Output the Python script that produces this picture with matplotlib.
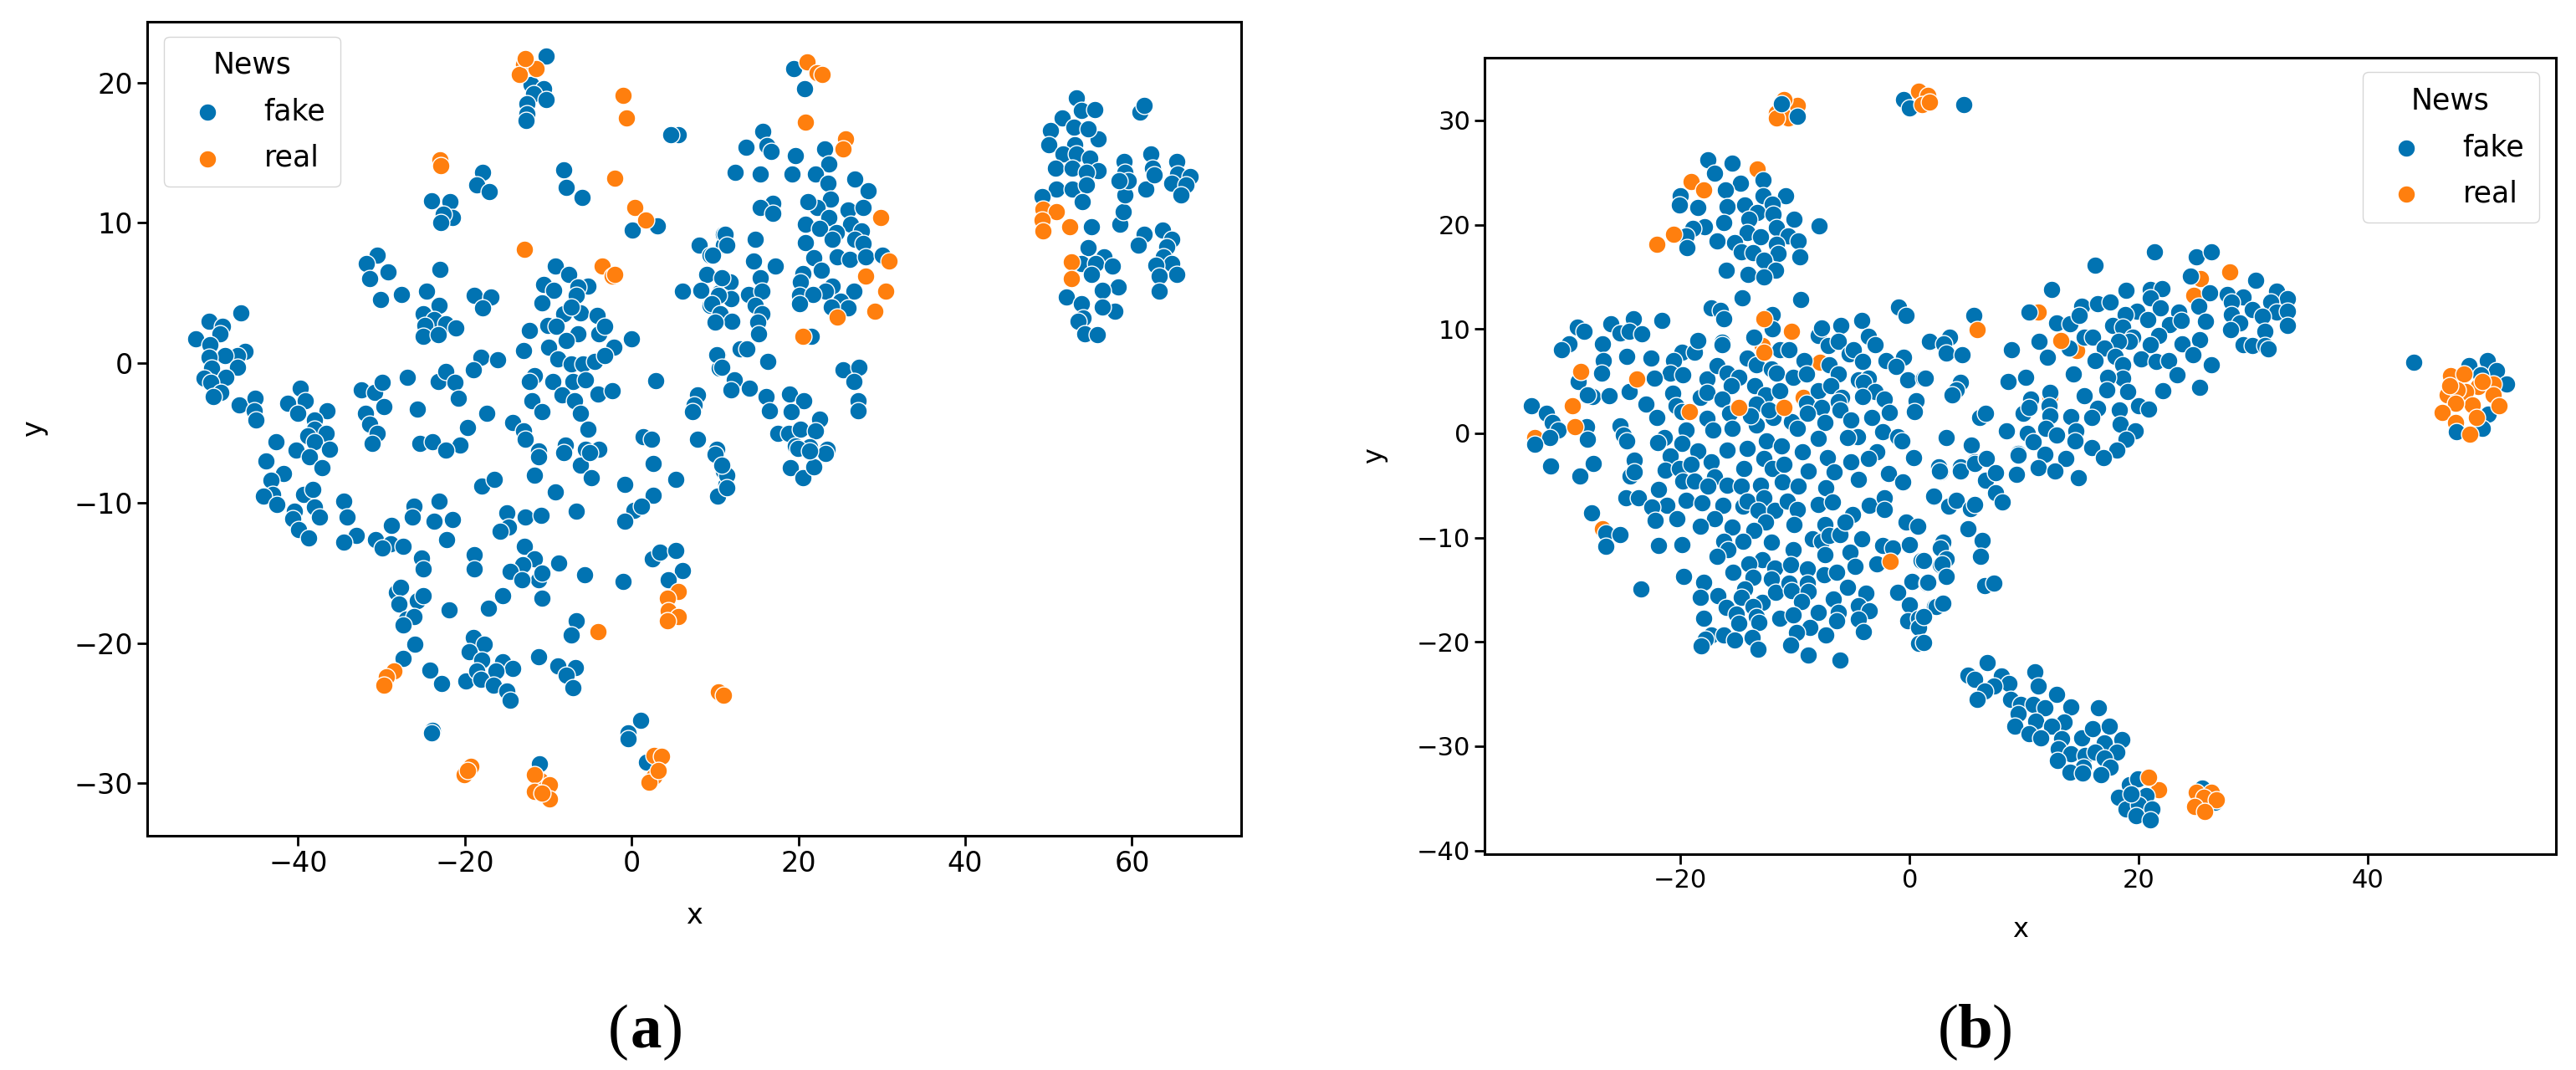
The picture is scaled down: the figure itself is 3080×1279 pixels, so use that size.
import numpy as np
import matplotlib
matplotlib.use('Agg')
import matplotlib.pyplot as plt

W, H = 3080, 1279
BLUE = '#0173b2'
ORANGE = '#ff7f0e'

# panel (a)
fake_a = np.array([
    (-10.3,21.9),(-12.1,19.9),(-10.6,19.6),(-11.8,19.2),(-10.3,18.8),(-12.6,18.5),(-12.6,17.8),(-12.7,17.3),
    (5.6,16.3),(4.7,16.3),(-17.9,13.6),(-18.6,12.7),(-17.1,12.2),(-8.1,13.8),(-7.8,12.5),(-5.9,11.8),
    (0.1,9.5),(3.1,9.8),(-24,11.6),(-21.8,11.5),(-21.5,10.4),(-22.6,10.6),(-22.9,10.0),
    (-23,6.7),(-30.5,7.7),(-31.8,7.1),(-29.2,6.5),(-31.4,6.0),(-30.1,4.5),(-27.6,4.9),(-24.6,5.1),(-23.1,4.1),
    (-25,3.5),(-23.7,3.1),(-22.3,2.8),(-21.1,2.5),(-24.8,2.7),(-25,1.9),(-23.2,2.0),(-18.9,4.8),(-16.9,4.7),(-17.9,3.9),
    (-9.2,6.9),(-7.5,6.3),(-10.6,5.6),(-9.4,5.2),(-10.8,4.3),(-5.2,5.5),(-6.4,5.4),(-6.6,4.8),(-6.1,3.6),(-4.1,3.4),
    (-8.1,3.5),(-7.2,4.0),(-10.1,2.7),(-9.1,2.6),(-6.4,2.1),(-3.9,2.1),(-3.2,2.6),(-12.3,2.3),(-7.8,1.6),(-2.1,1.1),
    (0,1.7),(-13,0.9),(-10,1.1),(-8.9,0.3),(-7.2,-0.1),(-5.8,-0.1),(-4.4,0.1),(-3.2,0.5),(-18.1,0.4),(-16.1,0.2),(-19,-0.5),
    (-46.9,3.6),(-50.7,2.95),(-49.1,2.6),(-49.4,2.1),(-52.3,1.7),(-50.6,1.3),(-46.4,0.8),(-47.3,0.5),(-48.8,0.5),(-50.7,0.4),
    (-47.3,-0.3),(-50.4,-0.4),(-48.7,-1.0),(-51.3,-1.1),(-50.5,-1.4),(-49.3,-2.1),(-50.2,-2.4),(-47.1,-3.0),(-45.2,-2.5),(-45.3,-3.4),(-45.1,-4.1),
    (-39.7,-1.8),(-41.2,-2.9),(-39.1,-2.7),(-40,-3.6),(-36.5,-3.4),(-38,-4.1),(-38,-4.7),(-38.8,-5.2),(-36.6,-5.05),(-38,-5.65),
    (-42.7,-5.6),(-40.2,-6.25),(-36.2,-6.15),(-32.4,-1.9),(-30.8,-2.1),(-29.9,-1.4),(-29.7,-3.1),(-31.9,-3.6),(-31.4,-4.35),(-30.5,-5.05),(-31.1,-5.75),
    (-26.9,-1.0),(-25.7,-3.3),(-23.2,-1.3),(-22.3,-0.6),(-21.2,-1.4),(-20.8,-2.5),(-17.4,-3.6),(-19.7,-4.6),(-14.3,-4.25),(-13,-4.85),(-12.8,-5.45),
    (-11.7,-0.9),(-12.3,-1.3),(-9.5,-1.3),(-7,-1.3),(-5.5,-1.2),(-8.3,-2.3),(-6.8,-2.7),(-4,-2.2),(-2.3,-2),(-12,-2.7),(-10.8,-3.5),(-6.1,-3.6),(-5.2,-4.7),
    (2.9,-1.25),(7.9,-2.3),(7.5,-3),(7.3,-3.5),(1.4,-5.25),(2.4,-5.45),(7.9,-5.45),(-25.4,-5.75),(-23.9,-5.65),(-20.6,-5.85),(-22.3,-6.25),
    (-11.2,-6.3),(-7.9,-5.85),(-5.5,-6.15),(-3.9,-6.15),(8.1,8.4),(9.4,7.7),(11,9.2),(11,8.4),(9,6.3),(6.1,5.1),(8.3,5.2),(10.5,5),(9.4,4.1),(10.1,3),(10.3,0.6),(10.5,-0.4),
    (-43.9,-7),(-38.6,-6.7),(-37.1,-7.5),(-41.7,-7.9),(-43.3,-8.4),(-43.1,-9.4),(-44.2,-9.5),(-42.6,-10.1),(-39.3,-9.4),(-38.2,-9),(-38,-10.3),(-40.4,-10.6),
    (-40.6,-11.1),(-37.4,-11),(-39.9,-11.9),(-38.7,-12.5),(-34.5,-9.85),(-34.1,-11),(-33,-12.3),(-34.5,-12.8),(-30.7,-12.6),(-28.9,-12.9),(-29.9,-13.2),
    (-28.8,-11.6),(-27.4,-13.1),(-25.2,-13.9),(-25,-14.7),(-26.1,-10.2),(-26.3,-11),(-23.1,-9.85),(-23.7,-11.3),(-21.5,-11.2),(-22.2,-12.6),
    (-18,-8.8),(-16.5,-8.3),(-11.7,-8),(-11.2,-6.7),(-9.2,-9.2),(-8.1,-6.4),(-6.1,-7.3),(-4.8,-8.2),(-5,-6.4),(-6.6,-10.6),(-15,-10.7),(-12.8,-11),(-10.9,-10.9),
    (-14.8,-11.7),(-15.8,-12),(-0.8,-8.7),(2.6,-7.2),(5.3,-8.3),(2.6,-9.45),(0.3,-10.5),(1.2,-10.2),(-0.8,-11.3),(10.3,-9.5),(10.1,-6.5),(11,-7.7),(11.3,-8.7),
    (-12.9,-13.1),(-11.7,-14),(-13.1,-14.4),(-14.6,-14.9),(-8.7,-14.3),(-11.2,-15.5),(-13.2,-15.5),(-10.8,-15),(-10.8,-16.8),(-18.9,-13.7),(-18.9,-14.7),(-5.6,-15.1),(-1,-15.6),
    (2.5,-14),(3.4,-13.5),(5.3,-13.4),(6.1,-14.8),(4.4,-15.5),(-6.6,-18.4),(-7.2,-19.4),(-28.2,-16.4),(-27.7,-16),(-27.9,-17.2),(-25.7,-17),(-25,-16.6),(-27,-18.3),
    (-26.1,-18.1),(-27.4,-18.7),(-21.9,-17.6),(-17.2,-17.5),(-15.5,-16.6),(-26,-20.1),(-27.4,-21.1),(-24.2,-21.9),(-22.8,-22.9),(-19.9,-22.7),
    (-19,-19.6),(-17.7,-20.1),(-19.5,-20.6),(-18,-21.2),(-15.5,-21.3),(-14.3,-21.8),(-16.3,-22),(-18.6,-22),(-18.1,-22.6),(-16.6,-23),(-15,-23.4),(-14.6,-24.1),
    (-11.2,-21),(-8.9,-21.6),(-6.7,-21.75),(-7.8,-22.3),(-7,-23.2),(-23.9,-26.2),(-24.0,-26.4),(1.1,-25.5),(-0.4,-26.4),(-0.4,-26.8),(1.8,-28.5),(-11.1,-28.6),
    (19.4,21),(20.7,19.6),(15.7,16.5),(13.7,15.4),(16.2,15.5),(16.7,15.1),(19.6,14.8),(23.1,15.3),(23.6,14.2),(12.4,13.6),(15.4,13.5),(19.2,13.5),(22,13.5),
    (23.5,12.8),(26.8,13.1),(28.4,12.3),(16.9,11.4),(15.4,11.1),(16.9,10.7),(23.8,11.7),(22.2,11.1),(21.1,11.5),(26,10.9),(27.8,11.1),(23.6,10.4),(20.8,9.9),
    (22.5,9.6),(26.3,9.9),(24.6,9.3),(27.6,9.4),(20.8,8.6),(24.1,8.8),(26.8,8.8),(27.8,8.5),(21.8,7.5),(24.7,7.6),(26.2,7.4),(28.1,7.6),(30.1,7.7),
    (20.5,6.4),(22.7,6.6),(20.2,5.8),(24.1,5.5),(23.2,5.1),(26.7,5.1),(20.1,4.8),(21.7,4.9),(20.1,4.2),(25.1,4.4),(26,3.9),(24,4),(21.5,1.9),
    (11.2,9.2),(11.4,8.4),(14.8,8.8),(9.7,7.7),(14.6,7.3),(17.2,6.9),(15.4,6.1),(11.8,5.8),(10.8,6.1),(14,4.9),(15.6,5.1),(11.9,4.6),(10.4,4.8),(9.6,4.2),
    (10.6,3.5),(12,3),(10,2.9),(14.8,4.1),(15.6,3.5),(15.1,2.9),(15.2,2.1),(13,1),(13.8,1),(16.3,0.1),(10.2,.6),(10.8,-.3),(12.3,-1.2),(11.9,-1.9),(14.1,-1.8),
    (16.1,-2.4),(16.5,-3.4),(18.9,-2.2),(20.6,-2.7),(19.1,-3.5),(25.4,-.5),(27.3,-.3),(26.7,-1.3),(27.2,-2.7),(27.2,-3.4),(22.5,-4),(17.5,-5.05),(18.8,-5),
    (20.2,-4.75),(22,-4.85),(19.6,-5.95),(21.3,-6),(23.4,-6.15),(10.2,-6.15),(19,-7.5),(20.5,-8.2),(21.8,-7.4),(23.2,-6.45),(19.9,-6.1),(21.3,-6.3),(10,-6.5),
    (11.45,-8),(10.3,-9.5),(11.45,-8.9),(10.8,-7.3),
    (53.35,18.9),(53.95,18),(55.55,18.1),(51.6,17.5),(50.2,16.6),(53.05,16.8),(55.95,16),(50,15.6),(53.15,15.6),(54.75,16.7),(51.7,14.9),(53.35,14.9),(54.95,14.6),
    (50.8,13.9),(52.85,13.9),(55.95,13.7),(54.55,13.6),(50.9,12.4),(52.85,12.4),(54.55,12.7),(54.05,11.5),(49.2,11.9),(55.15,9.7),(58.6,9.9),(59,10.8),(59.2,12),
    (59.1,14.4),(59.2,13.6),(59.6,13),(58.5,13),(61.7,12.4),(62.25,14.9),(62.45,13.9),(62.65,13.4),(61,17.9),(61.5,18.4),(65.35,14.4),(65.45,13.5),(67,13.3),
    (64.75,12.8),(66.45,12.7),(65.85,12),(61.5,9.2),(60.8,8.4),(63.65,9.5),(64.75,8.8),(64.15,8.3),(63.75,7.6),(64.75,7.1),(62.85,7),(65.35,6.3),(63.25,6.2),(63.25,5.1),
    (54.75,8.2),(56.65,7.6),(53.95,7.1),(55.65,7.1),(57.65,6.9),(55.15,6.3),(58.4,5.4),(56.45,5.2),(52.1,4.7),(53.95,4.2),(57.95,3.7),(56.45,4),(54.15,3.2),(53.55,3),(54.35,2.1),(55.85,2),
])
real_a = np.array([
    (-13.0,21.3),(-13.5,20.6),(-11.5,21.0),(-12.8,21.7),(-1.0,19.1),(-0.6,17.5),(-23.0,14.5),(-22.9,14.05),(-2.0,13.2),(0.4,11.1),(1.7,10.2),
    (-12.9,8.1),(-3.5,6.9),(-2.3,6.2),(-2.0,6.3),(5.6,-16.3),(4.3,-16.8),(4.4,-17.7),(5.6,-18.1),(4.3,-18.4),(-4,-19.2),
    (-28.5,-22),(-29.4,-22.4),(-29.7,-23),(2.7,-28),(3.6,-28.1),(2.7,-29.5),(2.1,-29.9),(3.2,-29.1),(-19.3,-28.8),(-20.1,-29.4),(-19.7,-29.1),
    (-11,-29.8),(-11.7,-29.4),(-9.9,-30.1),(-11.7,-30.6),(-9.9,-31.1),(-10.8,-30.7),(10.4,-23.5),(11,-23.7),
    (21,21.5),(22.2,20.7),(22.8,20.6),(20.8,17.2),(25.7,16),(25.4,15.3),(29.9,10.4),(30.9,7.3),(28.1,6.2),(30.5,5.1),(29.2,3.7),(24.7,3.3),(20.5,1.9),
    (49.3,11),(50.9,10.8),(49.2,10.2),(49.3,9.4),(52.5,9.7),(52.7,7.2),(52.7,6),
])

# panel (b)
real_b_under = np.array([
    (-11.6,30.7),(-10.6,30.2),(-9.8,31.4),(-11,32),(-11.6,30.2),(-13.3,25.3),(-12.9,8.4),(-7.8,6.8),(-9.3,3.4),(-32.7,-.45),(-26.8,-9.15),
    (25.4,14.8),(24.8,13.2),(11.2,11.6),(14.6,7.9),(12.25,3.55),(21.7,-34.15),
])
fake_b = np.array([
    (-11.2,31.6),(-9.8,30.4),(-.5,32),(0,31.2),(-17.6,26.2),(-17,24.9),(-15.5,25.9),(-12.8,24.3),(-14.8,24),(-16.1,23.3),(-20,22.8),(-20.1,21.9),(-18.5,21.65),
    (-12.8,22.75),(-10.8,22.75),(-15.9,21.7),(-14.4,21.9),(-12,22),(-13.3,21.2),(-11.9,21),(-14,20.5),(-10.1,20.5),(-16.2,20.2),(-7.9,19.9),(-11.6,19.7),(-14.2,19.25),
    (-17.9,19.8),(-18.9,19.6),(-19.5,18.9),(-19.4,17.8),(-16.8,18.4),(-15.3,18.3),(-13,18.8),(-10.6,18.9),(-9.7,18.4),(-11.6,18.1),(-14.7,17.4),(-13.7,17.3),(-11.5,17.2),
    (-9.6,16.9),(-12.7,16.6),(-16,15.6),(-11.7,15.6),(-14.1,15.2),(-12.7,15),(-14.6,13),(-9.5,12.8),(-17.3,12),(-16.5,11.8),(-16.2,11),(-12,11.4),(-12,10),
    (-29,10.2),(-28.4,9.75),(-29.7,8.6),(-30.4,8),(-26.1,10.5),(-25.3,9.6),(-24.1,11),(-24.5,9.8),(-23.4,9.5),(-21.6,10.8),(-26.8,8.6),(-26.7,7),(-26.9,5.8),(-24.7,7.4),
    (-22.6,7.2),(-19.9,7.8),(-18.8,7.8),(-18.5,8.9),(-20.6,7),(-20.9,5.8),(-19.8,5.6),(-22.3,5.3),(-28.9,5),(-33,2.6),(-31.7,1.9),(-31.2,1),(-28.2,.6),(-30.7,.3),(-31.4,-.45),
    (-28.1,-.6),(-32.7,-1.05),(-27.7,3.5),(-28.1,3.7),(-26.2,3.6),(-24.5,4),(-23,2.8),(-22.1,1.5),(-20.7,3.8),(-20.4,2.6),(-19.9,2.1),(-18.3,3.4),(-17.7,5.2),(-17.7,3.95),
    (-16.8,6.5),(-16.35,8.75),(-16.35,8.5),(-15.9,5.8),(-14.9,5.4),(-15.6,4.6),(-16.35,3.3),(-13.5,4.6),(-12.6,3.7),(-14.2,7.2),(-13.4,6.6),(-13.6,9.25),(-11.3,8),(-10.5,8),
    (-12.1,6.2),(-11.6,5.8),(-10.2,5.4),(-9.2,7),(-9,5.7),(-8,9.4),(-7.7,10.1),(-6,10.3),(-4.2,10.85),(-1,12.1),(-.3,11.3),(-7.1,8.4),(-6.2,8.8),(-7,6.6),(-6.2,5.7),(-5.3,7.6),
    (-4.9,8),(-4.1,6.9),(-3.6,9.3),(-3,8.5),(-2.1,7),(-.5,7.3),(-1.2,6.4),(-.2,5.15),(1.25,5.3),(1.7,8.7),(-4.5,5.1),(-3.6,5.3),(-4,4.9),(-3,4),(-4.1,3.55),(-2.2,3.3),(-8,4.1),
    (-6.9,4.6),(-11.3,4.1),(-13.4,2.8),(-9,2.9),(-7.7,2.5),(-5.9,3.4),(-6.25,3),(-6.1,2.2),(-8.9,1.95),(-15.7,1.95),(-15.5,.5),(-17.65,1.4),(-17.2,.35),(-19.5,.35),(-11.9,1.5),
    (-13.4,.8),(-13.9,1.7),(-10.3,1.15),(-9.8,.5),(-12.3,2.2),(-7.4,1),(-8,-.5),(-5.1,1.3),(-3.3,1.5),(-1.75,2),(.55,3.15),(.45,2.1),(-2.35,.15),(-1.05,-.3),(-.7,-.7),(-4.55,-.3),(-5.4,-.45),
    (-25.3,.75),(-25,-.2),(-24.7,-.7),(-21.4,-.45),(-22,-.9),(-19.9,-1),(-18.5,-1.7),(-15.95,-1.6),(-14.2,-1.45),(-12.5,-.7),(-11.2,-1.25),(-9.4,-1.8),(-7.2,-2.3),(-5.1,-2.7),(-2.9,-1.8),
    (-3.6,-2.45),(.35,-2.3),(-20.9,-2.2),(-17.3,-2.7),(-12.75,-2.45),(-24,-2.6),(-31.3,-3.1),(-27.6,-2.9),
    (-28.8,-4.1),(-24.4,-4.1),(-24,-3.7),(-21.3,-3.5),(-20.1,-3.4),(-19.1,-3),(-17,-4.2),(-19.8,-4.6),(-18.8,-4.6),(-15.9,-5),(-14.5,-3.4),(-14.7,-5.1),(-17.6,-5.1),(-13,-5),(-12,-3.35),
    (-11,-3),(-11.1,-4.65),(-9.7,-5.1),(-8.85,-3.6),(-7.3,-5.2),(-6.6,-3.7),(-4.5,-4.4),(-1.85,-3.85),(-.6,-4.65),(2.1,-6.1),(2.65,-3.7),(-24.8,-6.2),(-23.7,-6.15),(-21.9,-5.4),(-21.2,-6.9),
    (-22.5,-7.1),(-22.2,-8.35),(-20.3,-8.15),(-19.5,-6.4),(-18.15,-6.65),(-16.3,-6.9),(-17,-8.15),(-18.3,-8.9),(-14.55,-7),(-14.2,-6.5),(-12.7,-6.2),(-13.25,-7.4),(-11.8,-7.35),(-12.6,-8.5),
    (-10.65,-6.5),(-9.8,-7.3),(-10.1,-8.75),(-8,-6.8),(-6.7,-6.6),(-4.95,-7.8),(-3.5,-6.9),(-2.2,-6.2),(-2.2,-7.3),(-27.75,-7.65),(-26.55,-9.55),(-25.25,-9.75),(-26.55,-10.85),(-21.95,-10.75),
    (-19.85,-10.7),(-15.5,-9),(-13.6,-9.3),(-14.55,-10.35),(-16.2,-10.35),(-15.85,-11.15),(-16.8,-11.8),(-12.1,-10.4),(-10.15,-11.15),(-12.85,-12.1),(-14.05,-12.5),(-11.8,-12.9),(-10.4,-12.6),
    (-15.45,-13.3),(-13.65,-13.8),(-12.1,-14),(-8.9,-13),(-8.5,-10.1),(-7.4,-8.75),(-7.7,-10.35),(-7.05,-9.8),(-6.1,-9.75),(-5.65,-8.5),(-4.2,-10.1),(-7.4,-11.65),(-5.2,-11.4),(-4.8,-12.75),
    (-2.9,-12.55),(-2.35,-10.75),(-1.5,-11),(-.3,-8.5),(.7,-8.9),(-.05,-10.7),(1,-12.2),(2.65,-11),(2.65,-12.6),(-19.7,-13.7),(-23.45,-14.9),(-18,-14.3),(-18.3,-15.75),(-16.7,-15.55),
    (-14.4,-14.9),(-14.7,-15.75),(-16,-16.7),(-12.9,-16.2),(-13.65,-16.6),(-11.7,-15.25),(-10.55,-14.35),(-10.3,-15.1),(-8.9,-14.35),(-8.85,-15.15),(-9.45,-16.1),(-7.45,-13.55),(-6.4,-13.35),
    (-5.4,-14.75),(-6.65,-15.9),(-3.85,-15.35),(-4.45,-16.5),(-3.55,-17),(-1.05,-15.25),(.2,-14.2),(1.5,-14.35),(-.05,-16.45),(2.2,-16.65),(-18,-17.75),(-15.15,-17.3),(-14.9,-18.2),(-13.4,-17.55),
    (-13.15,-18.1),(-11.35,-17.75),(-10.2,-17.45),(-7.95,-17.2),(-8.7,-18.65),(-6.25,-17.15),(-6.4,-18),(-4.45,-17.85),(-4,-19.05),(-7.3,-19.3),(-9.85,-19.1),(-.2,-18),(.75,-17.7),(.75,-18.65),
    (.75,-20.15),(-17.3,-19.3),(-17.8,-19.75),(-18.2,-20.4),(-16.25,-19.3),(-15.25,-19.85),(-13.75,-19.6),(-13.25,-20.7),(-10.4,-20.3),(-8.85,-21.3),(-6.1,-21.75),
    (4.7,31.5),(21.4,17.4),(25,16.9),(26.3,17.4),(16.2,16.1),(24.5,15.1),(30.2,14.7),(12.4,13.8),(18.9,13.7),(21,13.8),(22,13.9),(21,13),(26.2,13.5),(27.7,13.3),(29.1,13.1),(32,13.6),(33,12.9),
    (28.1,12.6),(31.5,12.6),(15.05,12.2),(16.4,12.4),(17.5,12.6),(21.9,12),(25.2,12.2),(23.5,11.6),(19.8,11.7),(18.8,11.4),(10.4,11.6),(5.6,11.3),(29.9,11.9),(32,11.6),(33,11.7),(28.1,11.4),
    (30.8,11.2),(12.8,10.55),(14,10.5),(14.8,11.3),(20.8,10.9),(17.7,10.3),(18.6,10.2),(22.7,10.4),(25.8,10.7),(23.7,10.8),(33,10.3),(28.8,10.6),(28,9.9),(31,9.8),(3.5,9.2),(1.7,8.8),(3,8.6),
    (3.2,7.7),(4.55,7.5),(11.3,8.8),(13.9,8.15),(8.9,8),(12,7.3),(15.2,9.2),(16,9.2),(19.5,9.2),(21.7,9.4),(25.3,9),(23.8,8.6),(21,8.5),(19.2,8.8),(18.2,8.8),(29.1,8.5),(29.9,8.4),(31,8.4),(31.3,8.1),
    (17,8.2),(17.9,7.4),(16.2,7),(20.2,7.1),(21.5,6.9),(22.6,7),(24.7,7.5),(18.6,6.6),(26.3,6.6),(14.25,5.7),(23.3,5.6),(18.6,5.3),(17.3,5.4),(10.1,5.4),(8.6,5),(25.3,4.4),(22.1,4.1),(17.2,4.2),
    (19,4),(15.2,3.6),(4.45,4.9),(4.1,4.2),(3.7,3.7),(1.35,5.3),(10.55,3.3),(12.25,3.95),(12.2,2.6),(12.25,1.7),(9.9,1.9),(10.45,2.5),(6.1,1.5),(6.6,1.9),(16.4,2.4),(15.9,1.55),(14.1,1.6),(18.3,2.2),
    (20,2.6),(20.85,2.35),(18.35,.9),(8.45,.2),(10.25,0),(11.9,.5),(12.8,-.2),(14.5,.2),(19.7,.2),(18.85,-.55),(14.45,-.7),(10.8,-.85),(3.2,-.4),(5.35,-1.1),(15.9,-1.35),(18.05,-1.6),(16.9,-2.3),
    (9.5,-1.9),(11.8,-2),(13.6,-2.45),(5.7,-2.7),(6.6,-2.4),(2.5,-3.25),(4.4,-3.25),(44,6.8),(50.4,7),(48.8,6.5),(51.2,6),(52.1,4.7),(49.8,5.6),(50.5,1.8),(50,.5),
    (9.5,-2.1),(2.6,-3.6),(4.4,-3.6),(5.7,-2.9),(6.7,-2.45),(6.6,-4.5),(7.5,-3.8),(9.35,-3.95),(11.2,-3.3),(12.7,-3.6),(14.7,-4.3),(7.5,-5.7),(8.1,-6.6),(2.1,-6),(3.4,-7),(4.1,-6.4),(5.3,-7.25),(5.7,-6.8),
    (5.1,-9.15),(6.3,-10.3),(6.2,-11.8),(2.9,-10.4),(2.7,-11),(3.2,-12),(2.8,-12.55),(3.2,-13.7),(1.55,-14.3),(1.2,-12.2),(6.55,-14.6),(7.35,-14.4),(2.35,-16.6),(2.9,-16.3),(1.2,-17.55),(1.2,-20.05),
    (6.75,-22),(5.1,-23.2),(5.7,-23.55),(8,-23.3),(8.7,-24),(7.35,-24.2),(6.55,-24.7),(5.9,-25.5),(10.9,-22.9),(11.2,-24.2),(12.8,-25),(8.8,-25.55),(9.7,-26),(10.8,-26),(11.8,-26.3),(14.1,-26.25),(16.5,-26.3),
    (9.5,-26.85),(11,-27.6),(13.5,-27.65),(12.4,-28.1),(9.2,-28.05),(10.4,-28.8),(11.45,-29.2),(13.25,-29.3),(15,-29.2),(16,-28.3),(17.4,-28.1),(18.5,-29.4),(17,-29.7),(13,-30.25),(14.1,-30.7),(15.3,-30.9),
    (16.2,-30.6),(18.1,-30.55),(17,-31.1),(12.9,-31.35),(15.15,-32),(17.5,-32),(14,-32.5),(15.1,-32.6),(16.7,-32.7),(19.15,-33.7),(19.9,-33.1),(18.2,-34.9),(20.6,-34.75),(18.85,-36),(19.95,-35.6),(21.15,-36),
    (19.75,-36.7),(21,-37.1),(19.3,-34.55),(26.6,-35.4),(25.5,-34),
])
real_b = np.array([
    (.8,32.8),(1.6,32.4),(1.1,31.5),(1.7,31.75),(-19.1,24.1),(-18,23.3),(-20.6,19.1),(-22.1,18.1),(-12.7,11),(-10.3,9.8),(-12.75,7.8),(-28.7,5.9),(-23.8,5.2),(-29.4,2.6),(-29.2,.6),
    (-19.2,2.1),(-14.9,2.5),(-11,2.5),(-1.7,-12.3),(27.9,15.5),(5.9,9.9),(13.2,8.9),
    (47.2,5.5),(48.4,5.7),(49.6,4.5),(50.9,4.75),(48.5,4),(46.9,3.7),(50.9,3.7),(47.8,4.2),(49.1,2.75),(47.65,2.9),(51.45,2.6),(46.45,2),(49.45,1.55),(47.65,1),(50,5),(47.1,4.6),
    (20.85,-33),(25,-34.4),(26.3,-34.4),(25.7,-34.9),(26.8,-35.1),(24.9,-35.8),(25.75,-36.25),
])
fake_b_top = np.array([(47.75,.15)])
real_b_top = np.array([(48.9,-.05)])

xticks_a = [-40, -20, 0, 20, 40, 60]
yticks_a = [-30, -20, -10, 0, 10, 20]
xticks_b = [-20, 0, 20, 40]
yticks_b = [-40, -30, -20, -10, 0, 10, 20, 30]

plt.rcParams['font.family'] = 'DejaVu Sans'
fig = plt.figure(figsize=(W / 100, H / 100), dpi=100)


def make_axes(left, right, top, bottom):
    ax = fig.add_axes([left / W, 1 - bottom / H, (right - left) / W, (bottom - top) / H])
    for s in ax.spines.values():
        s.set_linewidth(2.2)
    ax.tick_params(width=2, length=8.5, labelsize=24)
    return ax


def dots(ax, pts, color, label=None):
    ax.scatter(pts[:, 0], pts[:, 1], s=225, c=color, edgecolors='white', linewidths=1.0, label=label)


def add_legend(ax, loc, anchor):
    ax.legend(title='News', loc=loc, bbox_to_anchor=anchor, fontsize=25, title_fontsize=25,
              labelspacing=0.62, handletextpad=0.95, borderpad=0.5, borderaxespad=0)


# (a)
ax1 = make_axes(176, 1484, 26, 999)
dots(ax1, fake_a, BLUE, 'fake')
dots(ax1, real_a, ORANGE, 'real')
ax1.set_xlim(-58.1, 73.1)
ax1.set_ylim(-33.75, 24.35)
ax1.set_xticks(xticks_a)
ax1.set_yticks(yticks_a)
ax1.set_xlabel('x', fontsize=24, labelpad=21)
ax1.set_ylabel('y', fontsize=24, labelpad=23)
add_legend(ax1, 'upper left', (0.015, 0.982))

# (b)
ax2 = make_axes(1775, 3056, 69, 1021)
dots(ax2, real_b_under, ORANGE)
dots(ax2, fake_b, BLUE, 'fake')
dots(ax2, real_b, ORANGE, 'real')
dots(ax2, fake_b_top, BLUE)
dots(ax2, real_b_top, ORANGE)
ax2.set_xlim(-37.1, 56.4)
ax2.set_ylim(-40.35, 36)
ax2.set_xticks(xticks_b)
ax2.set_yticks(yticks_b)
ax2.set_xlabel('x', fontsize=23, labelpad=21)
ax2.set_ylabel('y', fontsize=23, labelpad=25)
ax2.tick_params(labelsize=22)
add_legend(ax2, 'upper right', (0.984, 0.982))

# panel letters
for cx, letter in [(772, 'a'), (2362, 'b')]:
    y = 1 - 1234 / H
    fig.text(cx / W, y, letter, family='Liberation Serif', weight='bold', fontsize=54, ha='center', va='center')
    fig.text((cx - 20) / W, y, '(', family='Liberation Serif', fontsize=54, ha='right', va='center')
    fig.text((cx + 20) / W, y, ')', family='Liberation Serif', fontsize=54, ha='left', va='center')

fig.savefig('out.png', dpi=100)
